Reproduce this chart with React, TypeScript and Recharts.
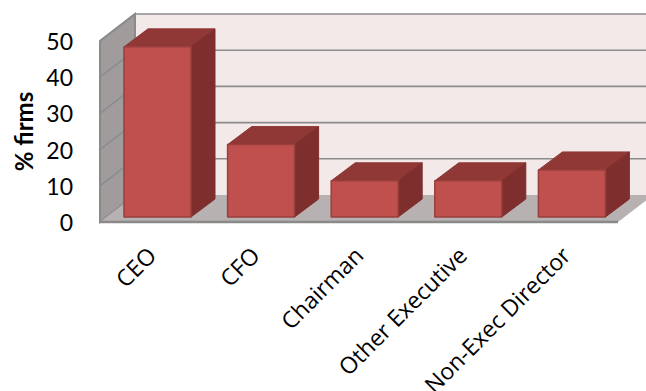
import React from "react";
import { BarChart, Bar, XAxis, YAxis, CartesianGrid, usePlotArea } from "recharts";

const roles = ["CEO", "CFO", "Chairman", "Other Executive", "Non-Exec Director"];
const firmShares = [47, 20, 10, 10, 13];
const yTicks = [0, 10, 20, 30, 40, 50];

const data = roles.map((role, i) => ({ role, share: firmShares[i] }));

const FONT = "Lato, 'Open Sans', sans-serif";
// floor depth of the box and of each bar
const WALL_DX = 35;
const WALL_DY = 27;
const BAR_SHIFT_X = 6;
const BAR_SHIFT_Y = 5;
const BAR_DX = 24;
const BAR_DY = 18;

const pts = (list: number[][]) => list.map((p) => p.join(",")).join(" ");

const Walls = () => {
  const plot = usePlotArea();
  if (!plot) return null;
  const left = plot.x;
  const right = plot.x + plot.width;
  const top = plot.y;
  const bottom = plot.y + plot.height;
  return (
    <g>
      <rect x={left + WALL_DX} y={top - WALL_DY} width={right + 60 - left} height={plot.height} fill="#F4E9E9" />
      <polygon
        points={pts([[left, top], [left + WALL_DX, top - WALL_DY], [left + WALL_DX, bottom - WALL_DY], [left, bottom]])}
        fill="#A09C9B"
        stroke="#8A8A8A"
        strokeWidth={2}
      />
      <polygon
        points={pts([[left, bottom], [left + WALL_DX, bottom - WALL_DY], [right + WALL_DX, bottom - WALL_DY], [right, bottom]])}
        fill="#B7B1B1"
      />
      <line x1={left} y1={bottom} x2={right} y2={bottom} stroke="#8A8A8A" strokeWidth={2.5} />
    </g>
  );
};

// the first line of the grid also lays down the box, so the rest sit on top of it
const GridLine = (props: any) => {
  const { x1, x2, y1, index } = props;
  if (index === 0) return <Walls />;
  return (
    <g stroke="#8C8C8C" strokeWidth={1.6}>
      <line x1={x1} y1={y1} x2={x1 + WALL_DX} y2={y1 - WALL_DY} />
      <line x1={x1 + WALL_DX} y1={y1 - WALL_DY} x2={x2 + 60} y2={y1 - WALL_DY} />
    </g>
  );
};

const Bar3D = (props: any) => {
  const { x, y, width, height } = props;
  const l = x + BAR_SHIFT_X;
  const r = l + width;
  const t = y - BAR_SHIFT_Y;
  const b = t + height;
  return (
    <g strokeLinejoin="round">
      <polygon points={pts([[l, t], [l + BAR_DX, t - BAR_DY], [r + BAR_DX, t - BAR_DY], [r, t]])} fill="#8F3836" stroke="#8F3836" strokeWidth={1} />
      <polygon points={pts([[r, t], [r + BAR_DX, t - BAR_DY], [r + BAR_DX, b - BAR_DY], [r, b]])} fill="#7E2F2D" stroke="#7E2F2D" strokeWidth={1} />
      <rect x={l} y={t} width={width} height={height} fill="#C0504D" stroke="#983F3D" strokeWidth={1.5} />
    </g>
  );
};

const RoleTick = (props: any) => {
  const { x, y, payload } = props;
  const ax = x + 6;
  const ay = y + 7;
  return (
    <text
      x={ax}
      y={ay}
      transform={`rotate(-45 ${ax} ${ay})`}
      textAnchor="end"
      fontFamily="'Open Sans', sans-serif"
      fontSize={23}
      fill="#000"
    >
      {payload.value}
    </text>
  );
};

const ShareTick = (props: any) => {
  const { x, y, payload } = props;
  return (
    <text x={x} y={y + 9} textAnchor="end" fontFamily={FONT} fontSize={23} fill="#000">
      {payload.value}
    </text>
  );
};

export default function App() {
  return (
    <div style={{ position: "absolute", left: 0, top: 0 }}>
      <BarChart
        width={646}
        height={391}
        data={data}
        margin={{ top: 41, right: 28, bottom: 0, left: 0 }}
        barCategoryGap="35%"
      >
        <CartesianGrid vertical={false} horizontal={GridLine} />
        <XAxis dataKey="role" height={169} axisLine={false} tickLine={false} tick={RoleTick} interval={0} tickMargin={22} />
        <YAxis
          width={100}
          domain={[0, 50]}
          ticks={yTicks}
          axisLine={false}
          tickLine={false}
          tickMargin={21}
          tick={ShareTick}
          label={{
            value: "% firms",
            angle: -90,
            position: "insideLeft",
            offset: 24,
            style: { fontFamily: FONT, fontSize: 24, fontWeight: 700, fill: "#000", textAnchor: "middle" },
          }}
        />
        <Bar dataKey="share" barSize={67} shape={Bar3D} isAnimationActive={false} />
      </BarChart>
    </div>
  );
}
